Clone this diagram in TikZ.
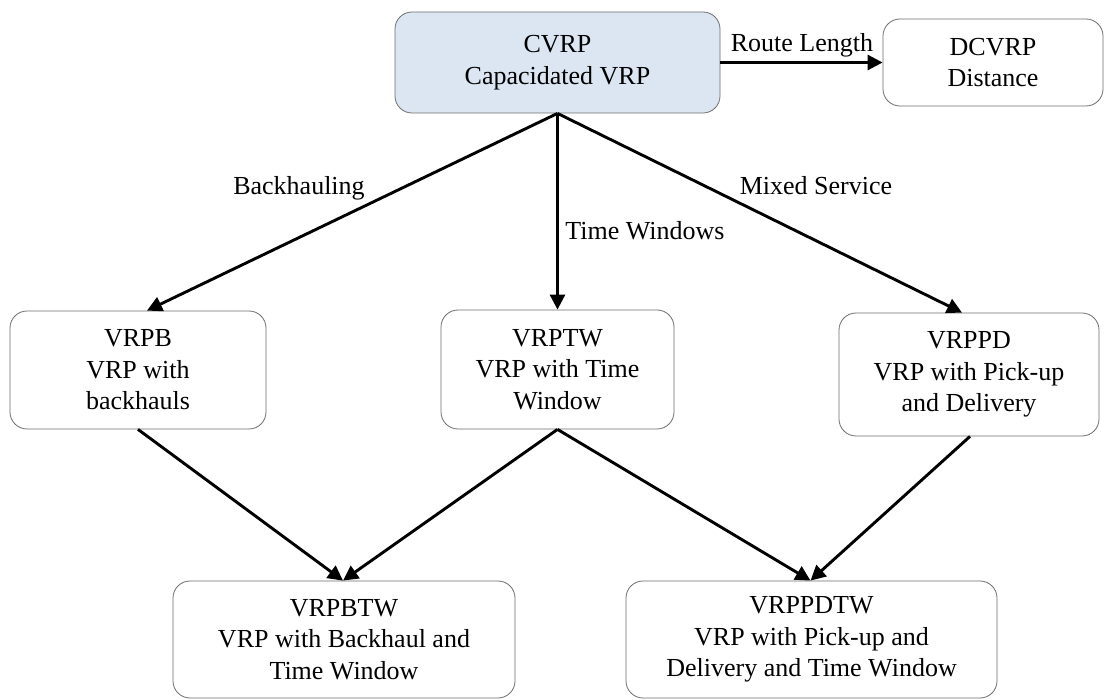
\documentclass[tikz,border=0pt]{standalone}
\usepackage{fontspec}
\setmainfont{Liberation Serif}
\usetikzlibrary{arrows.meta}
\definecolor{cvrpfill}{HTML}{DCE6F2}
\definecolor{boxline}{HTML}{6E6E6E}
\begin{document}
\begin{tikzpicture}[x=1pt,y=-1pt,
  box/.style={draw=boxline, line width=0.8pt, rounded corners=17pt, align=center,
    inner sep=0pt, font=\fontsize{26}{31.5}\selectfont, fill=white},
  conn/.style={line width=2.9pt, -{Triangle[length=15pt,width=15pt]}},
  lbl/.style={font=\fontsize{26}{31.5}\selectfont, inner sep=0pt, anchor=base}]
\useasboundingbox (0,0) rectangle (1104,700);
\fill[white] (0,0) rectangle (1104,700);
% nodes
\node[box, fill=cvrpfill, minimum width=325pt, minimum height=101pt] (cvrp) at (557.5,62.5) {CVRP\\Capacidated VRP};
\node[box, minimum width=220pt, minimum height=87pt] (dcvrp) at (993,62.5) {DCVRP\\Distance};
\node[box, minimum width=256pt, minimum height=118pt] (vrpb) at (138,370) {VRPB\\VRP with\\backhauls};
\node[box, minimum width=233pt, minimum height=119pt] (vrptw) at (557.5,369.5) {VRPTW\\VRP with Time\\Window};
\node[box, minimum width=260pt, minimum height=123pt] (vrppd) at (969,374.5) {VRPPD\\VRP with Pick-up\\and Delivery};
\node[box, minimum width=342pt, minimum height=117pt] (vrpbtw) at (344,639.5) {VRPBTW\\VRP with Backhaul and\\Time Window};
\node[box, minimum width=371pt, minimum height=117pt] (vrppdtw) at (811.5,639.5) {VRPPDTW\\VRP with Pick-up and\\Delivery and Time Window};
% connectors
\draw[conn] (cvrp.east) -- (dcvrp.west);
\draw[conn] (cvrp.south) -- ([xshift=9pt]vrpb.north);
\draw[conn] (cvrp.south) -- (vrptw.north);
\draw[conn] (cvrp.south) -- ([xshift=-7pt]vrppd.north);
\draw[conn] (vrpb.south) -- ([xshift=-1pt]vrpbtw.north);
\draw[conn] (vrptw.south) -- ([xshift=-1pt]vrpbtw.north);
\draw[conn] (vrptw.south) -- ([xshift=-1pt]vrppdtw.north);
\draw[conn] ([xshift=1pt]vrppd.south) -- ([xshift=-1pt]vrppdtw.north);
% labels
\node[lbl] (lroute) at (802,52) {Route Length};
\node[lbl] (lback) at (299,195) {Backhauling};
\node[lbl] (ltime) at (645,240) {Time Windows};
\node[lbl] (lmixed) at (816,195) {Mixed Service};
\end{tikzpicture}
\end{document}
